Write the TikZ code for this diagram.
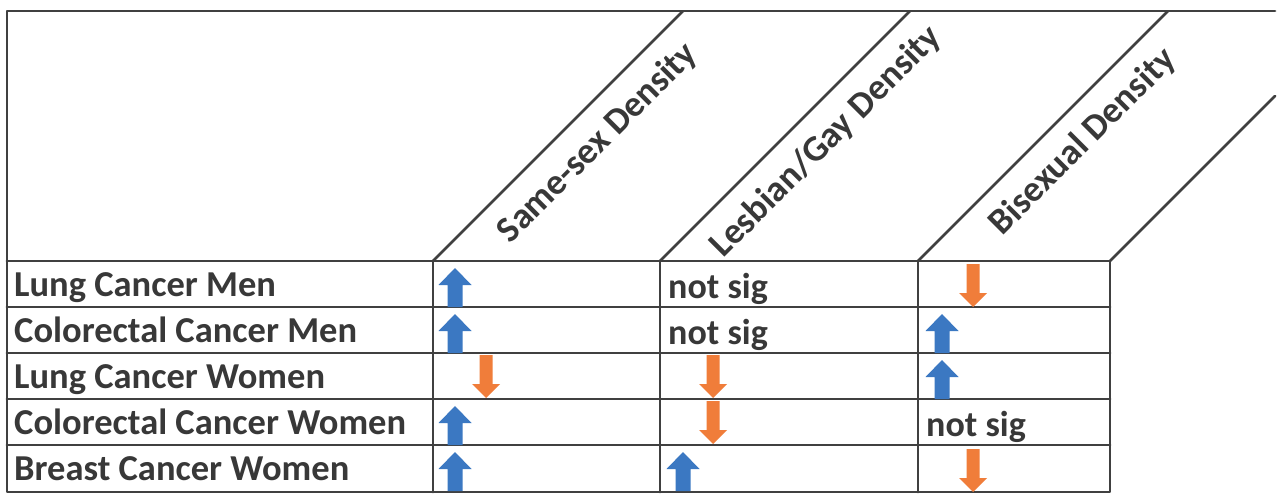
\documentclass[tikz,border=0pt]{standalone}
\usepackage{fontspec}
\setmainfont{Carlito}
\definecolor{ink}{HTML}{383838}
\definecolor{rule}{HTML}{404040}
\definecolor{upblue}{HTML}{3B78C2}
\definecolor{downorange}{HTML}{F07D3A}
\tikzset{
  grid/.style={draw=rule, line width=2.8pt, line cap=round, line join=round},
  rowlabel/.style={anchor=base west, inner sep=0pt, text=ink, font=\fontsize{36.5}{40}\selectfont\bfseries},
  celltext/.style={anchor=base west, inner sep=0pt, text=ink, font=\fontsize{36}{40}\selectfont\bfseries},
  headlabel/.style={rotate=45, inner sep=0pt, text=ink, font=\fontsize{36.5}{40}\selectfont\bfseries},
  uparrow/.pic={\fill[upblue] (-7.5,0) -- (-7.5,-22) -- (-16.5,-22) -- (0,-39) -- (16.5,-22) -- (7.5,-22) -- (7.5,0) -- cycle;},
  downarrow/.pic={\fill[downorange] (-6.5,0) -- (-6.5,29) -- (-14,29) -- (0,43) -- (14,29) -- (6.5,29) -- (6.5,0) -- cycle;}
}
\begin{document}
\begin{tikzpicture}[x=1pt,y=-1pt]
\useasboundingbox[fill=white] (0,0) rectangle (1280,500);
% frame and grid
\draw[grid] (1275,11) -- (7,11) -- (7,492) -- (1110,492) -- (1110,261) -- (7,261);
\foreach \yy in {307,353,399,445} \draw[grid] (7,\yy) -- (1110,\yy);
\foreach \xx in {433,660,918} \draw[grid] (\xx,261) -- (\xx,492);
% diagonals
\draw[grid] (433,261) -- (683,11);
\draw[grid] (660,261) -- (910,11);
\draw[grid] (918,261) -- (1168,11);
\draw[grid] (1110,261) -- (1275,96);
% header labels
\node[headlabel] (h1) at (598,143) {Same-sex Density};
\node[headlabel] (h2) at (826,142) {Lesbian/Gay Density};
\node[headlabel] (h3) at (1083,142) {Bisexual Density};
% row labels
\node[rowlabel] (r1) at (14,296) {Lung Cancer Men};
\node[rowlabel] (r2) at (14,342) {Colorectal Cancer Men};
\node[rowlabel] (r3) at (14,388) {Lung Cancer Women};
\node[rowlabel] (r4) at (14,434) {Colorectal Cancer Women};
\node[rowlabel] (r5) at (14,480) {Breast Cancer Women};
% cell texts
\node[celltext] (c12) at (668,298) {not sig};
\node[celltext] (c22) at (668,344) {not sig};
\node[celltext] (c43) at (926,436) {not sig};
% arrows
\pic at (455,307) {uparrow};
\pic at (455,353) {uparrow};
\pic at (486,355) {downarrow};
\pic at (455,445) {uparrow};
\pic at (455,491) {uparrow};
\pic at (713,355) {downarrow};
\pic at (713,401) {downarrow};
\pic at (683,491) {uparrow};
\pic at (973,264) {downarrow};
\pic at (942,353) {uparrow};
\pic at (942,399) {uparrow};
\pic at (973,449) {downarrow};
\end{tikzpicture}
\end{document}
